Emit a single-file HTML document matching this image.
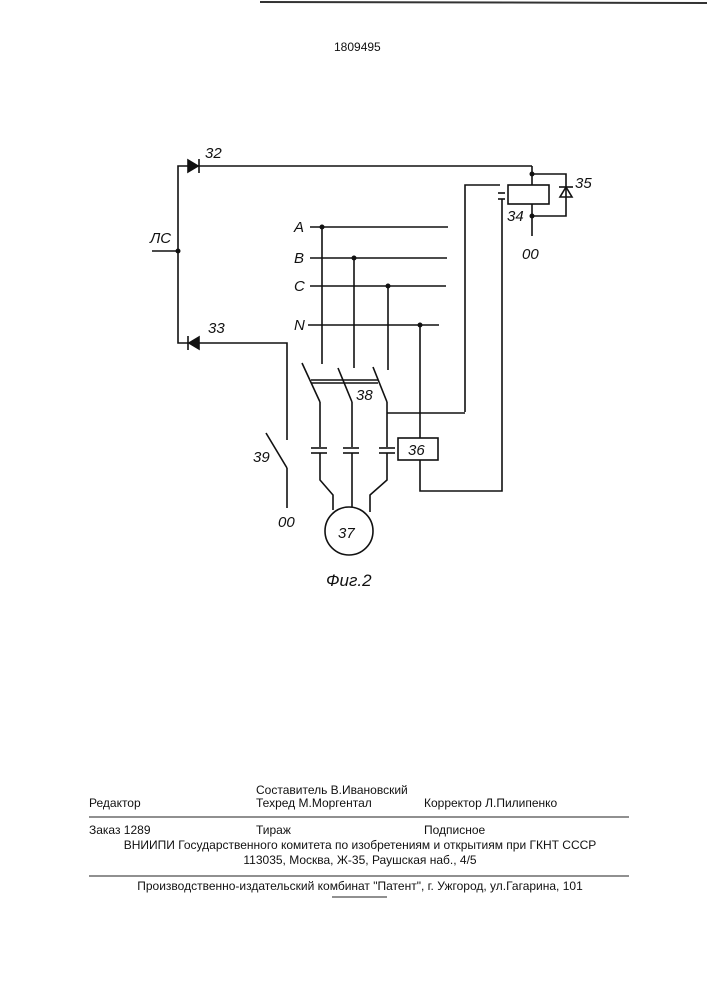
<!DOCTYPE html>
<html><head><meta charset="utf-8"><style>
html,body{margin:0;padding:0;background:#fff;}
svg{display:block;}
.t{font-family:"Liberation Sans",sans-serif;font-size:12px;fill:#111;}
.l{font-family:"Liberation Sans",sans-serif;font-size:15px;font-style:italic;fill:#111;}
</style></head><body>
<svg width="707" height="1000" viewBox="0 0 707 1000" xmlns="http://www.w3.org/2000/svg">
<line x1="260" y1="2" x2="707" y2="3" stroke="#333" stroke-width="2"/>
<text x="334" y="51" class="t">1809495</text>
<g stroke="#111" stroke-width="1.6" fill="none">
<!-- left bus -->
<polyline points="188,166 178,166 178,343 188,343"/>
<line x1="152" y1="251" x2="178" y2="251"/>
<line x1="198" y1="166" x2="532" y2="166"/>
<polyline points="532,166 532,185"/>
<!-- diodes -->
<polygon points="188,160 188,172 198,166" fill="#111"/><line x1="199" y1="159" x2="199" y2="173"/>
<polygon points="199,337 199,349 189,343" fill="#111"/><line x1="188" y1="336" x2="188" y2="350"/>
<!-- diode 33 to switch 39 -->
<polyline points="199,343 287,343 287,440"/>
<line x1="266" y1="433" x2="287" y2="468"/>
<line x1="287" y1="468" x2="287" y2="508"/>
<!-- relay 34 -->
<rect x="508" y="185" width="41" height="19"/>
<line x1="532" y1="204" x2="532" y2="236"/>
<polyline points="532,174 566,174 566,216 532,216"/>
<polygon points="560,197 572,197 566,187" fill="none"/>
<line x1="559" y1="187" x2="573" y2="187"/>
<!-- contact -->
<polyline points="465,412 465,185 500,185"/>
<line x1="498" y1="193" x2="505" y2="193"/>
<line x1="498" y1="199" x2="505" y2="199"/>
<polyline points="502,199 502,491 420,491 420,460"/>
<!-- phases -->
<line x1="310" y1="227" x2="448" y2="227"/>
<line x1="310" y1="258" x2="447" y2="258"/>
<line x1="310" y1="286" x2="446" y2="286"/>
<line x1="308" y1="325" x2="439" y2="325"/>
<line x1="322" y1="227" x2="322" y2="364"/>
<line x1="354" y1="258" x2="354" y2="368"/>
<line x1="388" y1="286" x2="388" y2="370"/>
<line x1="420" y1="325" x2="420" y2="438"/>
<rect x="398" y="438" width="40" height="22"/>
<!-- switches 38 -->
<line x1="302" y1="363" x2="320" y2="402"/>
<line x1="338" y1="368" x2="352" y2="402"/>
<line x1="373" y1="367" x2="387" y2="402"/>
<line x1="311" y1="380" x2="378" y2="380"/>
<line x1="311" y1="383" x2="378" y2="383"/>
<line x1="320" y1="402" x2="320" y2="447"/>
<line x1="352" y1="402" x2="352" y2="447"/>
<line x1="387" y1="402" x2="387" y2="447"/>
<line x1="387" y1="413" x2="465" y2="413"/>
<line x1="311" y1="448" x2="327" y2="448"/><line x1="311" y1="453" x2="327" y2="453"/>
<line x1="343" y1="448" x2="359" y2="448"/><line x1="343" y1="453" x2="359" y2="453"/>
<line x1="379" y1="448" x2="395" y2="448"/><line x1="379" y1="453" x2="395" y2="453"/>
<polyline points="320,453 320,480 333,495 333,510"/>
<line x1="352" y1="453" x2="352" y2="507"/>
<polyline points="387,453 387,480 370,495 370,512"/>
<circle cx="349" cy="531" r="24"/>
</g>
<g fill="#111">
<circle cx="178" cy="251" r="2.5"/><circle cx="532" cy="174" r="2.5"/><circle cx="532" cy="216" r="2.5"/>
<circle cx="322" cy="227" r="2.5"/><circle cx="354" cy="258" r="2.5"/><circle cx="388" cy="286" r="2.5"/><circle cx="420" cy="325" r="2.5"/>
</g>
<text x="205" y="158" class="l">32</text>
<text x="208" y="333" class="l">33</text>
<text x="150" y="243" class="l">ЛС</text>
<text x="294" y="232" class="l">A</text>
<text x="294" y="263" class="l">B</text>
<text x="294" y="291" class="l">C</text>
<text x="294" y="330" class="l">N</text>
<text x="575" y="188" class="l">35</text>
<text x="507" y="221" class="l">34</text>
<text x="522" y="259" class="l">00</text>
<text x="356" y="400" class="l">38</text>
<text x="253" y="462" class="l">39</text>
<text x="278" y="527" class="l">00</text>
<text x="408" y="455" class="l">36</text>
<text x="338" y="538" class="l">37</text>
<text x="326" y="586" class="l" style="font-size:17px">Фиг.2</text>
<text x="256" y="794" class="t">Составитель  В.Ивановский</text>
<text x="89" y="807" class="t">Редактор</text>
<text x="256" y="807" class="t">Техред М.Моргентал</text>
<text x="424" y="807" class="t">Корректор  Л.Пилипенко</text>
<line x1="89" y1="817" x2="629" y2="817" stroke="#222" stroke-width="1"/>
<text x="89" y="834" class="t">Заказ  1289</text>
<text x="256" y="834" class="t">Тираж</text>
<text x="424" y="834" class="t">Подписное</text>
<text x="360" y="849" class="t" text-anchor="middle">ВНИИПИ Государственного комитета по изобретениям и открытиям при ГКНТ СССР</text>
<text x="360" y="864" class="t" text-anchor="middle">113035, Москва, Ж-35, Раушская наб., 4/5</text>
<line x1="89" y1="876" x2="629" y2="876" stroke="#222" stroke-width="1"/>
<text x="360" y="890" class="t" text-anchor="middle">Производственно-издательский комбинат "Патент", г. Ужгород, ул.Гагарина, 101</text>
<line x1="332" y1="897" x2="387" y2="897" stroke="#222" stroke-width="1"/>
</svg>
</body></html>
